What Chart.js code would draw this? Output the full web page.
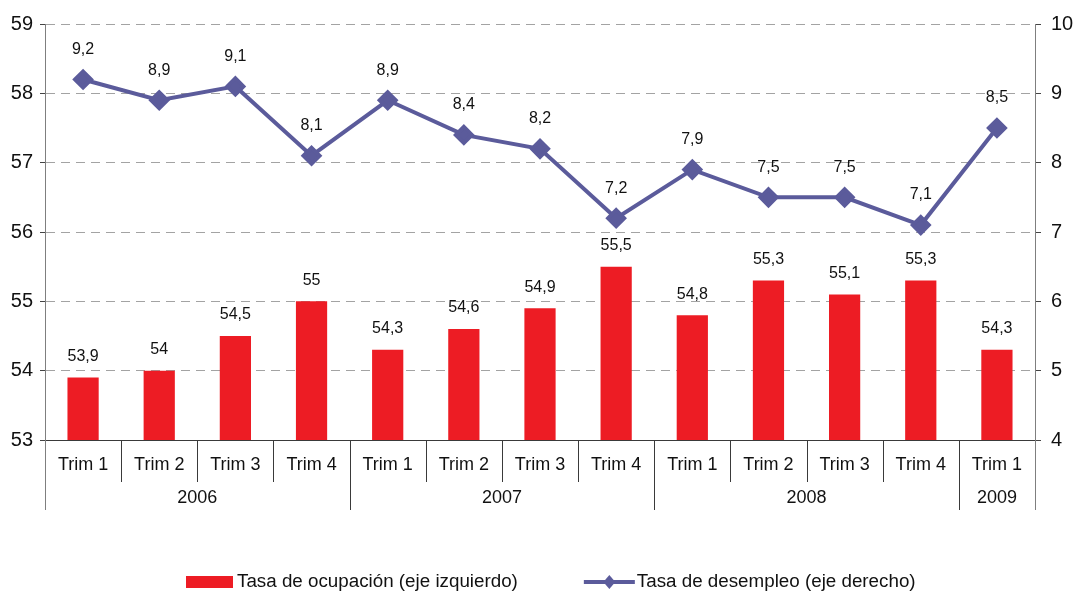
<!DOCTYPE html>
<html>
<head>
<meta charset="utf-8">
<style>
  html, body { margin: 0; padding: 0; background: #fff; }
  #wrap { width: 1073px; height: 591px; }
</style>
<script src="https://cdn.jsdelivr.net/npm/chart.js@4.4.1/dist/chart.umd.min.js"></script>
</head>
<body>
<div id="wrap"><canvas id="chart" width="1073" height="591"></canvas></div>
<script>
// Quarter labels and the year each group of quarters belongs to
const quarters = ['Trim 1', 'Trim 2', 'Trim 3', 'Trim 4', 'Trim 1', 'Trim 2', 'Trim 3', 'Trim 4', 'Trim 1', 'Trim 2', 'Trim 3', 'Trim 4', 'Trim 1'];
const years = ['2006', '2007', '2008', '2009'];
const quartersPerYear = [4, 4, 4, 1];

// Occupation rate (left axis) and unemployment rate (right axis), in %
const occupationRate = [53.9, 54.0, 54.5, 55.0, 54.3, 54.6, 54.9, 55.5, 54.8, 55.3, 55.1, 55.3, 54.3];
const unemploymentRate = [9.2, 8.9, 9.1, 8.1, 8.9, 8.4, 8.2, 7.2, 7.9, 7.5, 7.5, 7.1, 8.5];

// Axis ranges
const leftAxis = { min: 53, max: 59 };
const rightAxis = { min: 4, max: 10 };

const occupationLabel = 'Tasa de ocupación (eje izquierdo)';
const unemploymentLabel = 'Tasa de desempleo (eje derecho)';

const RED = '#ED1C24';
const BLUE = '#5B5B9B';
const FONT = '"Liberation Sans", Arial, sans-serif';

const fmt = v => String(v).replace('.', ',');

// Value labels above every bar and every point
const valueLabels = {
  id: 'valueLabels',
  afterDatasetsDraw(chart) {
    const ctx = chart.ctx;
    ctx.save();
    ctx.font = '16px ' + FONT;
    ctx.fillStyle = '#111';
    ctx.textAlign = 'center';
    ctx.textBaseline = 'middle';
    chart.data.datasets.forEach((ds, i) => {
      const meta = chart.getDatasetMeta(i);
      const offset = ds.type === 'line' ? 30 : 21;
      meta.data.forEach((el, j) => {
        ctx.fillText(fmt(ds.data[j]), el.x, el.y - offset);
      });
    });
    ctx.restore();
  }
};

// Two-row category table under the plot: quarters, then years
const categoryTable = {
  id: 'categoryTable',
  afterDraw(chart) {
    const ctx = chart.ctx;
    const x = chart.scales.x;
    const area = chart.chartArea;
    const rowTop = area.bottom;
    const row1 = rowTop + 42;
    const row2 = rowTop + 70;
    const half = (x.getPixelForValue(1) - x.getPixelForValue(0)) / 2;
    ctx.save();
    ctx.strokeStyle = '#3a3a3a';
    ctx.lineWidth = 1;
    // x axis line
    ctx.beginPath();
    ctx.moveTo(area.left, rowTop + 0.5);
    ctx.lineTo(area.right, rowTop + 0.5);
    ctx.stroke();
    // separators between quarters, longer ones between years
    const yearEdges = new Set([0]);
    let acc = 0;
    quartersPerYear.forEach(n => { acc += n; yearEdges.add(acc); });
    for (let i = 0; i <= quarters.length; i++) {
      const px = Math.round(x.getPixelForValue(i) - half) + 0.5;
      const bottom = yearEdges.has(i) ? row2 : row1;
      ctx.strokeStyle = (i === 0 || i === quarters.length) ? '#7f7f7f' : '#3a3a3a';
      ctx.beginPath();
      ctx.moveTo(px, rowTop);
      ctx.lineTo(px, bottom);
      ctx.stroke();
    }
    ctx.fillStyle = '#111';
    ctx.font = '18px ' + FONT;
    ctx.textAlign = 'center';
    ctx.textBaseline = 'middle';
    quarters.forEach((q, i) => {
      ctx.fillText(q, x.getPixelForValue(i), rowTop + 25);
    });
    let start = 0;
    years.forEach((y, k) => {
      const end = start + quartersPerYear[k] - 1;
      const cx = (x.getPixelForValue(start) + x.getPixelForValue(end)) / 2;
      ctx.fillText(y, cx, rowTop + 58);
      start = end + 1;
    });
    ctx.restore();
  }
};

// Legend along the bottom edge
const bottomLegend = {
  id: 'bottomLegend',
  afterDraw(chart) {
    const ctx = chart.ctx;
    ctx.save();
    ctx.font = '18.8px ' + FONT;
    ctx.textBaseline = 'middle';
    const y = 582;
    const swatchW = 47, lineW = 51, gap = 4, between = 66;
    const w1 = ctx.measureText(occupationLabel).width;
    let x = 186;
    ctx.fillStyle = RED;
    ctx.fillRect(x, y - 6, swatchW, 12);
    ctx.fillStyle = '#111';
    ctx.fillText(occupationLabel, x + swatchW + gap, y);
    x += swatchW + gap + w1 + between;
    ctx.strokeStyle = BLUE;
    ctx.lineWidth = 4;
    ctx.beginPath();
    ctx.moveTo(x, y);
    ctx.lineTo(x + lineW, y);
    ctx.stroke();
    ctx.fillStyle = BLUE;
    const cx = x + lineW / 2;
    ctx.beginPath();
    ctx.moveTo(cx, y - 7);
    ctx.lineTo(cx + 6, y);
    ctx.lineTo(cx, y + 7);
    ctx.lineTo(cx - 6, y);
    ctx.closePath();
    ctx.fill();
    ctx.fillStyle = '#111';
    ctx.fillText(unemploymentLabel, x + lineW + 2, y);
    ctx.restore();
  }
};

new Chart(document.getElementById('chart'), {
  data: {
    labels: quarters,
    datasets: [
      {
        type: 'line',
        label: unemploymentLabel,
        data: unemploymentRate,
        yAxisID: 'y2',
        borderColor: BLUE,
        backgroundColor: BLUE,
        borderWidth: 4,
        pointStyle: 'rectRot',
        pointRadius: 8,
        pointHoverRadius: 8,
        pointBackgroundColor: BLUE,
        pointBorderColor: BLUE,
        tension: 0
      },
      {
        type: 'bar',
        label: occupationLabel,
        data: occupationRate,
        yAxisID: 'y',
        backgroundColor: RED,
        categoryPercentage: 1,
        barPercentage: 0.41
      }
    ]
  },
  options: {
    responsive: false,
    animation: false,
    events: [],
    layout: { padding: { top: 24, bottom: 151, left: 0, right: 0 } },
    plugins: {
      legend: { display: false },
      tooltip: { enabled: false }
    },
    scales: {
      x: {
        display: false,
        offset: true
      },
      y: {
        position: 'left',
        min: leftAxis.min,
        max: leftAxis.max,
        afterFit(s) { s.width = 45; },
        ticks: {
          stepSize: 1,
          padding: 7,
          color: '#111',
          font: { family: FONT, size: 20 }
        },
        grid: {
          color: '#a3a3a3',
          tickColor: '#444',
          tickLength: 5,
          lineWidth: 1
        },
        border: { display: true, color: '#7f7f7f', width: 1, dash: [9, 6] }
      },
      y2: {
        position: 'right',
        min: rightAxis.min,
        max: rightAxis.max,
        afterFit(s) { s.width = 38; },
        ticks: {
          stepSize: 1,
          padding: 10,
          color: '#111',
          font: { family: FONT, size: 20 }
        },
        grid: {
          drawOnChartArea: false,
          tickColor: '#444',
          tickLength: 6
        },
        border: { display: true, color: '#7f7f7f', width: 1 }
      }
    }
  },
  plugins: [valueLabels, categoryTable, bottomLegend]
});
</script>
</body>
</html>
